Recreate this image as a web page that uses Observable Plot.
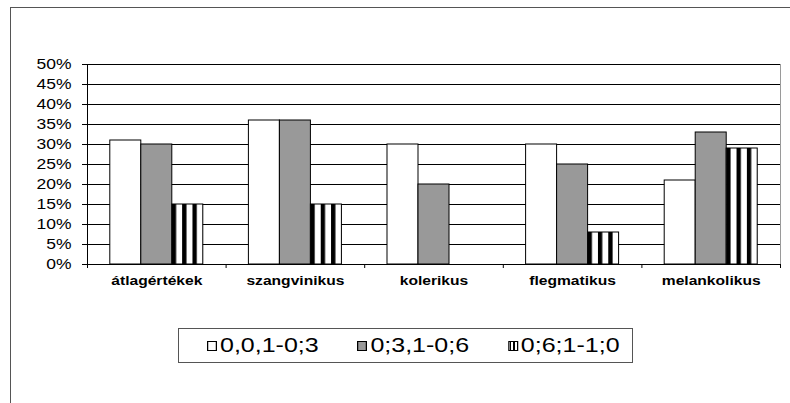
<!DOCTYPE html>
<html><head><meta charset="utf-8">
<script src="https://cdn.jsdelivr.net/npm/d3@7"></script>
<script src="https://cdn.jsdelivr.net/npm/@observablehq/plot@0.6"></script>
<style>
html,body{margin:0;padding:0;background:#fff;overflow:hidden;}
#wrap{position:relative;width:790px;height:403px;font-family:"Liberation Sans",Arial,sans-serif;}
#chart{position:absolute;left:0;top:0;}
#frame{position:absolute;left:10px;top:7px;width:800px;height:420px;border:1px solid #555;box-sizing:border-box;pointer-events:none;}
#legend{position:absolute;left:178px;top:328px;width:455px;height:35px;border:1px solid #555;box-sizing:border-box;background:#fff;}
#legend .inner{position:absolute;left:28px;top:0;height:100%;display:flex;align-items:center;transform:scaleX(1.25);transform-origin:left center;white-space:nowrap;}
.item{display:flex;align-items:center;margin-right:31px;font-size:20px;color:#000;}
.item:last-child{margin-right:0;}
.sw{width:8px;height:10px;border:1px solid #000;box-sizing:border-box;margin-right:2.4px;}
</style></head>
<body>
<div id="wrap">
  <div id="chart"></div>
  <div id="legend"><div class="inner"></div></div>
  <div id="frame"></div>
</div>
<script>
// ---- data ----
const categories = ["átlagértékek", "szangvinikus", "kolerikus", "flegmatikus", "melankolikus"];
const seriesNames = ["0,0,1-0;3", "0;3,1-0;6", "0;6;1-1;0"];
const series1 = [0.31, 0.36, 0.30, 0.30, 0.21];
const series2 = [0.30, 0.36, 0.20, 0.25, 0.33];
const series3 = [0.15, 0.15, 0.00, 0.08, 0.29];
const yTicks = [0, 0.05, 0.10, 0.15, 0.20, 0.25, 0.30, 0.35, 0.40, 0.45, 0.50];
const yDomain = [0, 0.5];

// ---- styles ----
const seriesFills = ["#ffffff", "#999999", "url(#stripes)"];
const legendSwatches = ["#ffffff", "#999999", "repeating-linear-gradient(90deg,#000 0 1.5px,#fff 1.5px 3px)"];
const seriesValues = [series1, series2, series3];
const groupFrac = 0.671;
const barW = groupFrac / seriesNames.length;
const groupPad = (1 - groupFrac) / 2;
const STRETCH = 1.25;

const rows = categories.flatMap((c, i) =>
  seriesValues.map((vals, s) => ({category: c, index: i, s, series: seriesNames[s], value: vals[i]})));
const boundaries = d3.range(categories.length + 1);
const centers = categories.map((_, i) => i + 0.5);

const plot = Plot.plot({
  width: 790, height: 300,
  marginTop: 64, marginBottom: 36, marginLeft: 87, marginRight: 10,
  style: {fontFamily: '"Liberation Sans", Arial, sans-serif', background: "none", color: "#000"},
  x: {domain: [0, categories.length], label: null},
  y: {domain: yDomain, label: null},
  color: {type: "ordinal", domain: seriesNames, range: seriesFills},
  marks: [
    Plot.ruleY(yTicks, {stroke: "#000"}),
    Plot.ruleX([categories.length], {y1: yDomain[0], y2: yDomain[1], stroke: "#9a9a9a"}),
    Plot.rect(rows, {
      x1: d => d.index + groupPad + d.s * barW,
      x2: d => d.index + groupPad + (d.s + 1) * barW,
      y1: 0, y2: "value",
      fill: "series", stroke: "#000", strokeWidth: 1
    }),
    Plot.ruleX([0], {y1: yDomain[0], y2: yDomain[1], stroke: "#000"}),
    Plot.axisY(yTicks, {tickSize: 5, tickPadding: 11, tickFormat: d3.format(".0%"), fontSize: 14, label: null}),
    Plot.axisX(boundaries, {tickSize: 4, tickFormat: () => "", label: null}),
    Plot.axisX(centers, {tickSize: 0, tickPadding: 12, tickFormat: v => categories[Math.floor(v)],
      fontSize: 12.5, fontWeight: "bold", label: null})
  ]
});

// stripe pattern
const ns = "http://www.w3.org/2000/svg";
const defs = document.createElementNS(ns, "defs");
defs.innerHTML = '<pattern id="stripes" patternUnits="objectBoundingBox" patternContentUnits="objectBoundingBox" width="0.3333" height="1"><rect width="0.3333" height="1" fill="#fff"/><rect width="0.14" height="1" fill="#000"/></pattern>';
plot.insertBefore(defs, plot.firstChild);

// horizontal stretch of text (reference is horizontally stretched)
plot.querySelectorAll("text").forEach(t => {
  const x = +(t.getAttribute("x") || 0);
  const tr = t.getAttribute("transform") || "";
  t.setAttribute("transform", `${tr} translate(${x},0) scale(${STRETCH},1) translate(${-x},0)`);
});

document.getElementById("chart").appendChild(plot);

// legend
const inner = document.querySelector("#legend .inner");
seriesNames.forEach((name, i) => {
  const item = document.createElement("div");
  item.className = "item";
  const sw = document.createElement("span");
  sw.className = "sw";
  sw.style.background = legendSwatches[i];
  const lab = document.createElement("span");
  lab.textContent = name;
  item.appendChild(sw);
  item.appendChild(lab);
  inner.appendChild(item);
});
</script>
</body></html>
